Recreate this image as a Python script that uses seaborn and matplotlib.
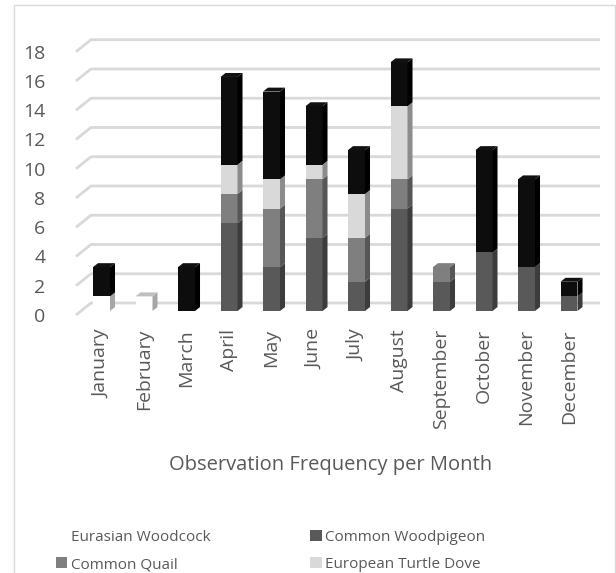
import numpy as np
import matplotlib; matplotlib.use('Agg')
import matplotlib.pyplot as plt
import matplotlib.transforms as mtransforms
from matplotlib.patches import Polygon, Rectangle, Patch
import seaborn as sns

# ── DATA ──────────────────────────────────────────────────
MONTHS = ['January', 'February', 'March', 'April', 'May', 'June', 'July',
          'August', 'September', 'October', 'November', 'December']
SERIES = ['Eurasian Woodcock', 'Common Woodpigeon', 'Common Quail',
          'European Turtle Dove', 'other']
woodcock    = [1, 1, 0, 0, 0, 0, 0, 0, 0, 0, 0, 0]
woodpigeon  = [0, 0, 0, 6, 3, 5, 2, 7, 2, 4, 3, 1]
quail       = [0, 0, 0, 2, 4, 4, 3, 2, 1, 0, 0, 0]
turtle_dove = [0, 0, 0, 2, 2, 1, 3, 5, 0, 0, 0, 0]
other       = [2, 0, 3, 6, 6, 4, 3, 3, 0, 7, 6, 1]   # legend entry cut off
Y_TICKS     = [0, 2, 4, 6, 8, 10, 12, 14, 16, 18]

# ── STYLE ─────────────────────────────────────────────────
FRONT = ['#ffffff', '#595959', '#7f7f7f', '#d9d9d9', '#0d0d0d']
SIDE  = ['#a6a6a6', '#3c3c3c', '#565656', '#8c8c8c', '#000000']
TOP   = ['#bfbfbf', '#595959', '#808080', '#d9d9d9', '#111111']
TXT   = '#595959'
GRID  = '#d9d9d9'
FS    = 14
BAR_W = 0.4
DX, DY = 0.118, 0.27          # 3d depth of the columns (data units)

sns.set_style('white')
plt.rcParams['font.family'] = ['Open Sans', 'DejaVu Sans']

W, H = 616, 573
fig = plt.figure(figsize=(W / 100, H / 100), dpi=100, facecolor='white')
ax = fig.add_axes([76 / W, (H - 311) / H, 510 / W, 263.3 / H])

stack = np.array([woodcock, woodpigeon, quail, turtle_dove, other], dtype=float)
cum = np.cumsum(stack, axis=0)

# back wall gridlines with the floor diagonal
for t in Y_TICKS:
    ax.plot([-0.6, -0.247, 11.73], [t - 0.274, t + 0.547, t + 0.547],
            color=GRID, lw=2, zorder=0, clip_on=False, solid_capstyle='butt')

# stacked columns: tallest cumulative first, then overwrite downwards
for k in range(len(SERIES) - 1, -1, -1):
    sns.barplot(x=MONTHS, y=cum[k], color=FRONT[k], width=BAR_W,
                saturation=1, errorbar=None, linewidth=0, ax=ax, zorder=3)

# side and top faces
for i in range(len(MONTHS)):
    xl, xr = i - BAR_W / 2, i + BAR_W / 2
    top_k = None
    for k in range(len(SERIES)):
        if stack[k, i] <= 0:
            continue
        y0, y1 = cum[k, i] - stack[k, i], cum[k, i]
        ax.add_patch(Polygon([(xr, y0), (xr + DX, y0 + DY), (xr + DX, y1 + DY), (xr, y1)],
                             closed=True, facecolor=SIDE[k], lw=0, zorder=4))
        top_k = k
    if top_k is not None:
        y1 = cum[top_k, i]
        ax.add_patch(Polygon([(xl, y1), (xl + DX, y1 + DY), (xr + DX, y1 + DY), (xr, y1)],
                             closed=True, facecolor=TOP[top_k], lw=0, zorder=4))

ax.set_xlim(-0.6, 11.4)
ax.set_ylim(0, 18)
ax.set_yticks(Y_TICKS)
ax.set_ylabel('')
ax.set_xlabel('Observation Frequency per Month', fontsize=14.5, color=TXT)
ax.xaxis.set_label_coords(0.5, -0.547)
ax.tick_params(axis='both', length=0, labelsize=FS, labelcolor=TXT)
ax.tick_params(axis='y', pad=22)
ax.tick_params(axis='x', pad=13)
plt.setp(ax.get_xticklabels(), rotation=90)
off = mtransforms.ScaledTranslation(0, -4 / 100, fig.dpi_scale_trans)
for lab in ax.get_yticklabels():
    lab.set_transform(lab.get_transform() + off)
sns.despine(ax=ax, left=True, bottom=True)
ax.set_facecolor('none')

# legend (fifth entry is cut off in the reference)
handles = [Patch(facecolor=FRONT[k], edgecolor='none', label=SERIES[k]) for k in range(4)]
order = [0, 2, 1, 3]
fig.legend([handles[j] for j in order], [SERIES[j] for j in order],
           loc='upper left', bbox_to_anchor=(56 / W, 1 - 530 / H), ncol=2,
           frameon=False, fontsize=11, labelcolor=TXT, handlelength=0.75,
           handleheight=0.75, handletextpad=0.2, columnspacing=6.55,
           labelspacing=0.8, borderpad=0, borderaxespad=0)

# chart area border
fig.add_artist(Rectangle((14 / W, -0.05), (615 - 14) / W, (H - 5) / H + 0.05,
                         transform=fig.transFigure, fill=False,
                         edgecolor=GRID, lw=1))

fig.savefig('out.png', dpi=100)
plt.close(fig)
